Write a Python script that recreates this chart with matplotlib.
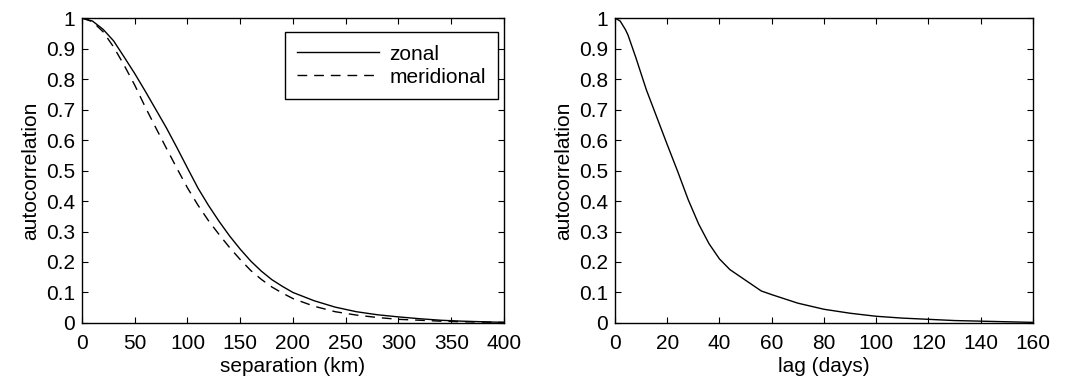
import matplotlib
matplotlib.use("Agg")
import matplotlib.pyplot as plt
import numpy as np

plt.rcParams['font.family'] = ['Liberation Sans', 'DejaVu Sans']
plt.rcParams['font.size'] = 15

# left panel: spatial autocorrelation vs separation (km)
sep_zonal = [0, 10, 20, 30, 40, 50, 60, 70, 80, 90, 100, 110, 120, 130, 140, 150, 160,
             170, 180, 190, 200, 220, 240, 260, 280, 300, 320, 340, 360, 380, 400]
acf_zonal = [1.0, 0.99, 0.963, 0.925, 0.872, 0.818, 0.76, 0.70, 0.64, 0.575, 0.508, 0.442,
             0.385, 0.333, 0.285, 0.242, 0.203, 0.17, 0.142, 0.12, 0.10, 0.073, 0.052,
             0.037, 0.027, 0.020, 0.014, 0.009, 0.006, 0.004, 0.002]

sep_merid = [0, 10, 20, 30, 40, 50, 60, 70, 80, 90, 100, 110, 120, 130, 140, 150, 160,
             170, 180, 190, 200, 220, 240, 260, 280, 300, 320, 340, 360, 380, 400]
acf_merid = [1.0, 0.988, 0.955, 0.905, 0.845, 0.78, 0.708, 0.64, 0.573, 0.507, 0.443, 0.386,
             0.335, 0.29, 0.247, 0.208, 0.172, 0.143, 0.118, 0.098, 0.08, 0.055, 0.037,
             0.026, 0.018, 0.012, 0.009, 0.006, 0.004, 0.003, 0.002]

# right panel: temporal autocorrelation vs lag (days)
lag_days = [0, 2, 4, 5, 8, 12, 16, 20, 24, 28, 32, 36, 40, 44, 50, 56, 60, 70, 80, 90,
            100, 110, 120, 130, 140, 150, 160]
acf_lag = [1.0, 0.99, 0.962, 0.944, 0.87, 0.765, 0.675, 0.585, 0.497, 0.405, 0.325, 0.26,
           0.21, 0.175, 0.14, 0.105, 0.093, 0.065, 0.045, 0.032, 0.022, 0.016, 0.012,
           0.008, 0.006, 0.004, 0.002]

fig = plt.figure(figsize=(10.66, 3.87), dpi=100)
ax1 = fig.add_axes([0.0769, 0.1654, 0.3959, 0.788])
ax2 = fig.add_axes([0.5769, 0.1654, 0.3921, 0.788])

ax1.plot(sep_zonal, acf_zonal, color='black', lw=1.0, label='zonal')
ax1.plot(sep_merid, acf_merid, color='black', lw=1.0, dashes=(7, 5), label='meridional')
ax1.set_xlim(0, 400)
ax1.set_xticks(np.arange(0, 401, 50))
ax1.set_xlabel('separation (km)', labelpad=3)
leg = ax1.legend(loc='upper right', fancybox=False, edgecolor='black', framealpha=1,
                 handlelength=3.9, handletextpad=0.5, borderpad=0.6, labelspacing=0.2,
                 borderaxespad=0, bbox_to_anchor=(0.986, 0.954))
leg.get_frame().set_linewidth(1.0)

ax2.plot(lag_days, acf_lag, color='black', lw=1.0)
ax2.set_xlim(0, 160)
ax2.set_xticks(np.arange(0, 161, 20))
ax2.set_xlabel('lag (days)', labelpad=3)

yt = np.round(np.arange(0, 1.01, 0.1), 1)
ylabels = ['0'] + ['%.1f' % v for v in yt[1:-1]] + ['1']
for ax in (ax1, ax2):
    ax.set_ylim(0, 1)
    ax.set_yticks(yt)
    ax.set_yticklabels(ylabels)
    ax.set_ylabel('autocorrelation', labelpad=4)
    ax.tick_params(direction='in', top=True, right=True, length=4, width=0.8)
    ax.tick_params(axis='x', pad=8)
    ax.tick_params(axis='y', pad=5)
    for s in ax.spines.values():
        s.set_linewidth(1.0)

fig.savefig('out.png', dpi=100)
